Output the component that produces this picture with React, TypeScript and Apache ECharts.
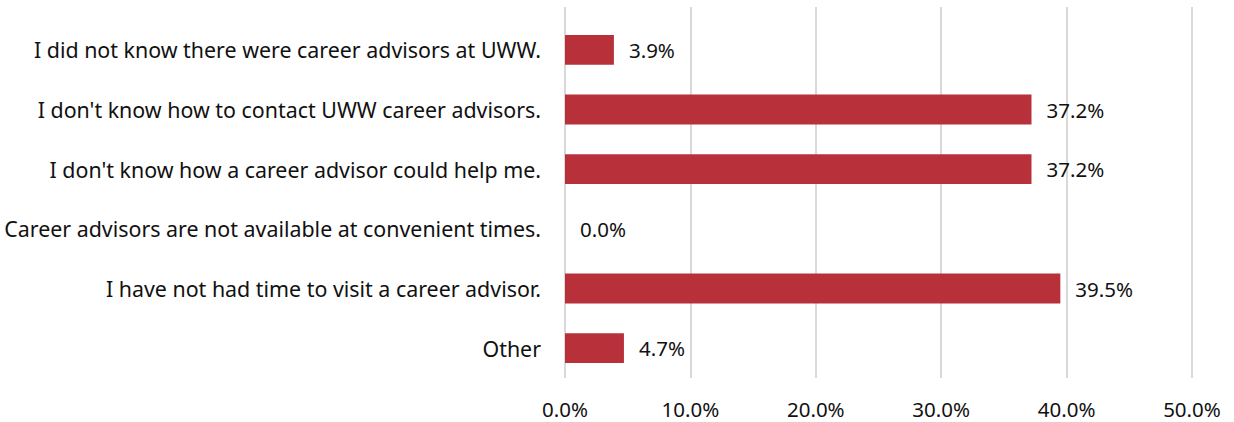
import React, { useEffect, useRef } from "react";
import * as echarts from "echarts";

const categories = [
  "I did not know there were career advisors at UWW.",
  "I don't know how to contact UWW career advisors.",
  "I don't know how a career advisor could help me.",
  "Career advisors are not available at convenient times.",
  "I have not had time to visit a career advisor.",
  "Other",
];
const values = [3.9, 37.2, 37.2, 0.0, 39.5, 4.7];
const xTicks = [0, 10, 20, 30, 40, 50];

const FONT = "Noto Sans";
const FS = 20.5;
const CAT_FS = 21.4;

export default function App() {
  const ref = useRef<HTMLDivElement>(null);
  useEffect(() => {
    const chart = echarts.init(ref.current!, undefined, { renderer: "svg" });
    chart.setOption({
      animation: false,
      textStyle: { fontFamily: FONT },
      grid: [
        { left: 565, right: 42, top: 7, bottom: 44 },
        { left: 565, right: 42, top: 20, bottom: 44 },
      ],
      xAxis: [
        {
          gridIndex: 0,
          type: "value",
          min: xTicks[0],
          max: xTicks[xTicks.length - 1],
          interval: 10,
          axisLine: { show: false },
          axisTick: { show: false },
          splitLine: { show: true, lineStyle: { color: "#d9d9d9", width: 2 } },
          axisLabel: {
            margin: 20,
            fontFamily: FONT,
            fontSize: FS,
            color: "#111",
            formatter: (v: number) => v.toFixed(1) + "%",
          },
        },
        {
          gridIndex: 1,
          type: "value",
          min: xTicks[0],
          max: xTicks[xTicks.length - 1],
          interval: 10,
          show: false,
          splitLine: { show: false },
        },
      ],
      yAxis: [
        {
          gridIndex: 0,
          type: "category",
          data: categories,
          show: false,
        },
        {
          gridIndex: 1,
          type: "category",
          data: categories,
          inverse: true,
          axisLine: { show: false },
          axisTick: { show: false },
          axisLabel: {
            margin: 24,
            fontFamily: FONT,
            fontSize: CAT_FS,
            color: "#111",
          },
        },
      ],
      series: [
        {
          type: "bar",
          xAxisIndex: 1,
          yAxisIndex: 1,
          data: values,
          barWidth: "50%",
          itemStyle: { color: "#b8313a" },
          label: {
            show: true,
            position: "right",
            distance: 15,
            fontFamily: FONT,
            fontSize: FS,
            color: "#111",
            formatter: (p: any) => Number(p.value).toFixed(1) + "%",
          },
        },
      ],
    });
    return () => chart.dispose();
  }, []);
  return (
    <div
      ref={ref}
      style={{ position: "fixed", left: 0, top: 0, width: 1234, height: 422, background: "#fff" }}
    />
  );
}
